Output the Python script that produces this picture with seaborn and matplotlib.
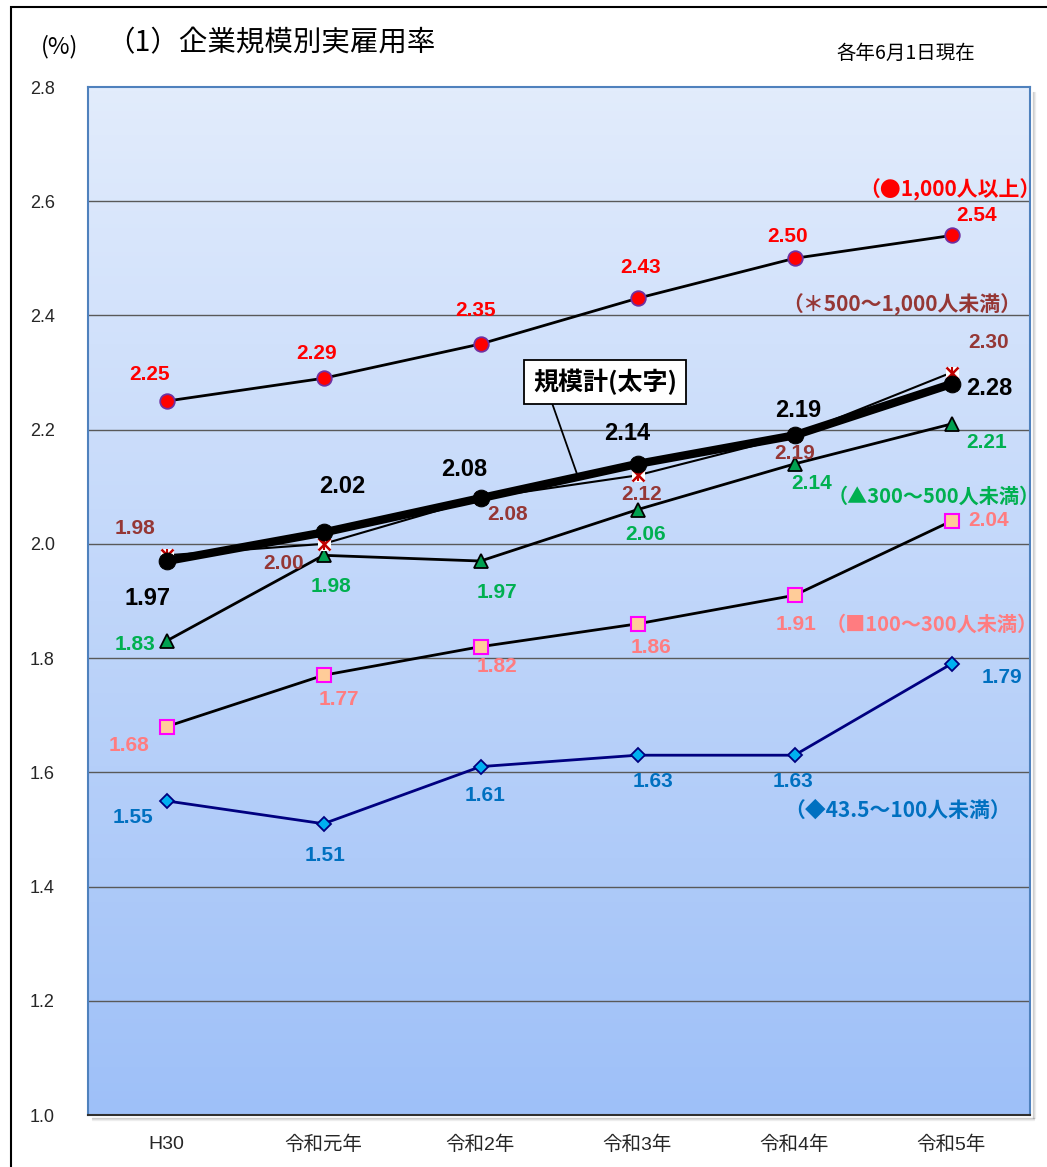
import numpy as np
import matplotlib
matplotlib.use("Agg")
import matplotlib.pyplot as plt
import matplotlib.patches as mpatches
from matplotlib.ticker import FixedLocator
import seaborn as sns

# ── データ ───────────────────────────────────────────────────────────────────
years = ["H30", "令和元年", "令和2年", "令和3年", "令和4年", "令和5年"]
size_1000 = [2.25, 2.29, 2.35, 2.43, 2.50, 2.54]
size_500 = [1.98, 2.00, 2.08, 2.12, 2.19, 2.30]
size_300 = [1.83, 1.98, 1.97, 2.06, 2.14, 2.21]
size_100 = [1.68, 1.77, 1.82, 1.86, 1.91, 2.04]
size_435 = [1.55, 1.51, 1.61, 1.63, 1.63, 1.79]
total = [1.97, 2.02, 2.08, 2.14, 2.19, 2.28]
y_ticks = [1.0, 1.2, 1.4, 1.6, 1.8, 2.0, 2.2, 2.4, 2.6, 2.8]

sns.set_style("white")
FONT = ["Liberation Sans", "Noto Sans CJK JP", "DejaVu Sans"]
CJK = ["Noto Sans CJK JP", "DejaVu Sans"]
plt.rcParams["font.family"] = FONT

fig = plt.figure(figsize=(10.47, 11.67), dpi=100)
ax = fig.add_axes([88 / 1047, 1 - 1115 / 1167, 942 / 1047, 1028 / 1167])

x = np.arange(len(years))

# 背景グラデーション (上: 淡い青 → 下: 濃い青)
top = np.array([226, 236, 252]) / 255
bot = np.array([158, 192, 248]) / 255
t = np.linspace(0, 1, 256)[:, None]
grad = (top * (1 - t) + bot * t)[:, None, :]
ax.imshow(grad, extent=[-0.5, 5.5, 1.0, 2.8], aspect="auto", zorder=0,
          origin="upper")

ax.set_xlim(-0.5, 5.5)
ax.set_ylim(1.0, 2.8)

for yv in y_ticks[1:-1]:
    ax.axhline(yv, color="#595959", lw=1.0, zorder=1)

# ── 系列 ─────────────────────────────────────────────────────────────────────
sns.lineplot(x=x, y=size_435, ax=ax, color="#000080", lw=2, marker="D",
             markersize=7, markerfacecolor="#00b0f0", markeredgecolor="#000080",
             markeredgewidth=1.3, zorder=3)
sns.lineplot(x=x, y=size_100, ax=ax, color="black", lw=2, marker="s",
             markersize=10, markerfacecolor="#ffcc99", markeredgecolor="#ff00ff",
             markeredgewidth=1.5, zorder=3)
sns.lineplot(x=x, y=size_300, ax=ax, color="black", lw=2, marker="^",
             markersize=10, markerfacecolor="#00a050", markeredgecolor="black",
             markeredgewidth=1.3, zorder=3)
sns.lineplot(x=x, y=size_500, ax=ax, color="black", lw=1.5, marker="s",
             markersize=9, markerfacecolor="white", markeredgecolor="white",
             zorder=3)
ax.plot(x, size_500, ls="none", marker="x", markersize=8, color="#c00000",
        markeredgewidth=1.8, zorder=4)
ax.plot(x, size_500, ls="none", marker="|", markersize=8, color="#c00000",
        markeredgewidth=1.5, zorder=4)
sns.lineplot(x=x, y=size_1000, ax=ax, color="black", lw=2, marker="o",
             markersize=10.5, markerfacecolor="#ff0000", markeredgecolor="#7030a0",
             markeredgewidth=1.3, zorder=3)
sns.lineplot(x=x, y=total, ax=ax, color="black", lw=6, marker="o",
             markersize=12, markerfacecolor="black", markeredgecolor="black",
             zorder=5)

# ── データラベル (offset pixels) ─────────────────────────────────────────────
label_sets = [
    (size_1000, "#ff0000", 15, [(-17, 27), (-7, 25), (-5, 34), (3, 31), (-7, 22), (25, 20)]),
    (size_500, "#953735", 15, [(-32, 27), (-40, -20), (27, -16), (4, -19), (0, -18), (37, 30)]),
    (size_300, "#00b050", 15, [(-31, -4), (7, -31), (16, -31), (8, -25), (17, -20), (35, -19)]),
    (size_100, "#ff7c80", 15, [(-37, -19), (15, -24), (17, -20), (14, -24), (2, -29), (37, 1)]),
    (size_435, "#0070c0", 15, [(-33, -17), (2, -32), (5, -29), (16, -26), (-1, -26), (50, -14)]),
    (total, "black", 17, [(-19, -37), (19, 46), (-16, 29), (-10, 30), (4, 25), (38, -5)]),
]
for vals, col, fs, offs in label_sets:
    for i, (v, (dx, dy)) in enumerate(zip(vals, offs)):
        ax.annotate(f"{v:.2f}", xy=(i, v), xytext=(dx, dy),
                    textcoords="offset pixels", ha="center", va="center",
                    fontsize=fs, fontweight="bold", color=col, zorder=6)

# ── 系列名 ───────────────────────────────────────────────────────────────────
def fig_text(px, py, s, **kw):
    fig.text(px / 1047, 1 - py / 1167, s, ha="center", va="center", **kw)

fig_text(950, 190, "（●1,000人以上）", fontsize=15, fontweight="bold", color="#ff0000", family=CJK)
fig_text(902, 305, "（＊500～1,000人未満）", fontsize=15, fontweight="bold", color="#953735", family=CJK)
fig_text(934, 496, "（▲300～500人未満）", fontsize=14.5, fontweight="bold", color="#00b050", family=CJK)
fig_text(932, 624, "（■100～300人未満）", fontsize=14.5, fontweight="bold", color="#ff7c80", family=CJK)
fig_text(898, 810, "（◆43.5～100人未満）", fontsize=15, fontweight="bold", color="#0070c0", family=CJK)

# 規模計 box + leader line
fig.add_artist(plt.Line2D([552 / 1047, 577 / 1047], [1 - 403 / 1167, 1 - 474 / 1167],
                          color="black", lw=1.3, zorder=7))
fig_text(605, 382, "規模計(太字)", fontsize=18, fontweight="bold", color="black",
         family=CJK,
         bbox=dict(boxstyle="square,pad=0.35", fc="white", ec="black", lw=1.3),
         zorder=8)

# ── 軸 ───────────────────────────────────────────────────────────────────────
ax.set_yticks(y_ticks)
ax.set_yticklabels([f"{v:.1f}" for v in y_ticks], fontsize=13)
ax.tick_params(axis="y", length=0, pad=24)
ax.set_xticks(x)
ax.set_xticklabels(years, fontsize=14)
ax.tick_params(axis="x", which="major", length=0, pad=15)
ax.xaxis.set_minor_locator(FixedLocator([0.5, 1.5, 2.5, 3.5, 4.5]))
ax.tick_params(axis="x", which="minor", direction="in", length=7, width=1,
               color="#404040")
for side in ["left", "top", "right"]:
    ax.spines[side].set_color("#4f81bd")
    ax.spines[side].set_linewidth(1.5)
ax.spines["bottom"].set_color("#303030")
ax.spines["bottom"].set_linewidth(1.5)

# 影 (下・右)
for k, a in enumerate([0.35, 0.2, 0.1]):
    yy = 1 - (1118 + k) / 1167
    fig.add_artist(plt.Line2D([92 / 1047, 1034 / 1047], [yy, yy], color="gray",
                              alpha=a, lw=1))
    xx = (1033 + k) / 1047
    fig.add_artist(plt.Line2D([xx, xx], [1 - 92 / 1167, 1 - 1118 / 1167],
                              color="gray", alpha=a, lw=1))

# タイトル
fig_text(60, 47, "(%)", fontsize=17, color="black", family=CJK)
fig.text(106 / 1047, 1 - 43 / 1167, "（1）企業規模別実雇用率", ha="left",
         va="center", fontsize=20.5, color="black", family=CJK)
fig_text(906, 53, "各年6月1日現在", fontsize=14, color="black", family=CJK)

# 外枠
fig.add_artist(mpatches.Rectangle((11 / 1047, -0.02), 1.1, 1.02 - 7 / 1167,
                                  transform=fig.transFigure, fill=False,
                                  ec="black", lw=1.5))

fig.savefig("out.png", dpi=100)
